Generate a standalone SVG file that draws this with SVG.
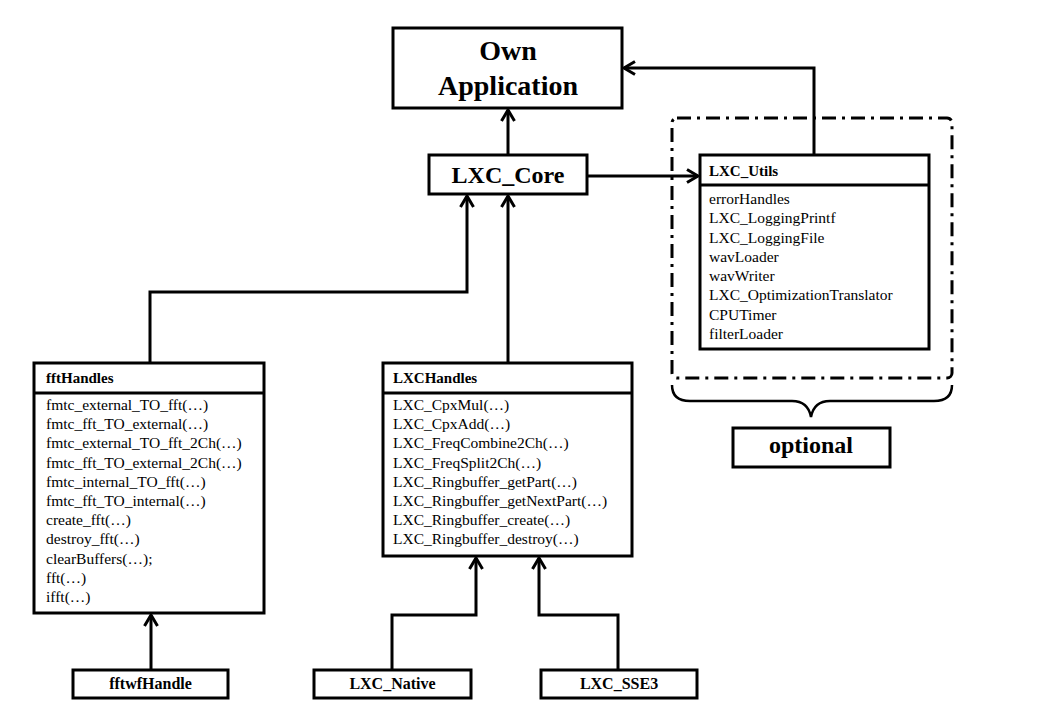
<svg xmlns="http://www.w3.org/2000/svg" width="1040" height="720" viewBox="0 0 1040 720">
<style>
.box{fill:#fff;stroke:#000;stroke-width:3}
.sep{stroke:#000;stroke-width:3}
.con{fill:none;stroke:#000;stroke-width:3;marker-end:url(#arr)}
.big{font-family:"Liberation Serif","Times New Roman",serif;font-weight:bold;font-size:28px;text-anchor:middle}
.mid{font-family:"Liberation Serif","Times New Roman",serif;font-weight:bold;font-size:24px;text-anchor:middle}
.lbl{font-family:"Liberation Serif","Times New Roman",serif;font-weight:bold;font-size:16px;text-anchor:middle}
.hdr{font-family:"Liberation Serif","Times New Roman",serif;font-weight:bold;font-size:15px}
.itm{font-family:"Liberation Serif","Times New Roman",serif;font-size:15.5px}
</style>
<defs>
<marker id="arr" markerUnits="userSpaceOnUse" markerWidth="16" markerHeight="16" viewBox="0 0 16 16" refX="13" refY="8" orient="auto">
<path d="M2,1.5 L13,8 L2,14.5" fill="none" stroke="#000" stroke-width="3"/>
</marker>
</defs>
<rect width="1040" height="720" fill="#fff"/>

<g id="optional-frame">
<rect x="672" y="118" width="280" height="260" rx="5" fill="none" stroke="#000" stroke-width="3" stroke-dasharray="14 6 3 6"/>
<path d="M672,385 Q672,401 690,401 L792,401 Q808,401 811,417 Q814,401 830,401 L934,401 Q952,401 952,385" fill="none" stroke="#000" stroke-width="2.5"/>
</g>

<g id="connectors">
<path class="con" d="M508,155 L508,110"/>
<path class="con" d="M587,176 L698,176"/>
<path class="con" d="M814,155 L814,68 L624,68"/>
<path class="con" d="M150,363 L150,292 L467,292 L467,196"/>
<path class="con" d="M508,363 L508,196"/>
<path class="con" d="M151,670 L151,615"/>
<path class="con" d="M392,670 L392,615 L476,615 L476,558"/>
<path class="con" d="M618,670 L618,615 L539,615 L539,558"/>
</g>

<g id="own-application">
<rect class="box" x="393" y="28" width="229" height="80"/>
<text class="big" x="508" y="60">Own</text>
<text class="big" x="508" y="95">Application</text>
</g>

<g id="lxc-core">
<rect class="box" x="429" y="155" width="158" height="39"/>
<text class="mid" x="508" y="183">LXC_Core</text>
</g>

<g id="lxc-utils">
<rect class="box" x="700" y="155" width="229" height="194"/>
<line class="sep" x1="700" y1="185" x2="929" y2="185"/>
<text class="hdr" x="709" y="176">LXC_Utils</text>
<text class="itm" x="709" y="204">errorHandles</text>
<text class="itm" x="709" y="223.3">LXC_LoggingPrintf</text>
<text class="itm" x="709" y="242.5">LXC_LoggingFile</text>
<text class="itm" x="709" y="261.8">wavLoader</text>
<text class="itm" x="709" y="281">wavWriter</text>
<text class="itm" x="709" y="300.3">LXC_OptimizationTranslator</text>
<text class="itm" x="709" y="319.5">CPUTimer</text>
<text class="itm" x="709" y="338.8">filterLoader</text>
</g>

<g id="optional">
<rect class="box" x="733" y="428" width="157" height="39"/>
<text class="mid" x="811" y="453">optional</text>
</g>

<g id="fft-handles">
<rect class="box" x="34" y="363" width="230" height="250"/>
<line class="sep" x1="34" y1="393" x2="264" y2="393"/>
<text class="hdr" x="46" y="383">fftHandles</text>
<text class="itm" x="46" y="410">fmtc_external_TO_fft(…)</text>
<text class="itm" x="46" y="429.2">fmtc_fft_TO_external(…)</text>
<text class="itm" x="46" y="448.4">fmtc_external_TO_fft_2Ch(…)</text>
<text class="itm" x="46" y="467.6">fmtc_fft_TO_external_2Ch(…)</text>
<text class="itm" x="46" y="486.8">fmtc_internal_TO_fft(…)</text>
<text class="itm" x="46" y="506">fmtc_fft_TO_internal(…)</text>
<text class="itm" x="46" y="525.2">create_fft(…)</text>
<text class="itm" x="46" y="544.4">destroy_fft(…)</text>
<text class="itm" x="46" y="563.6">clearBuffers(…);</text>
<text class="itm" x="46" y="582.8">fft(…)</text>
<text class="itm" x="46" y="602">ifft(…)</text>
</g>

<g id="lxc-handles">
<rect class="box" x="383" y="363" width="249" height="193"/>
<line class="sep" x1="383" y1="393" x2="632" y2="393"/>
<text class="hdr" x="393" y="383">LXCHandles</text>
<text class="itm" x="393" y="410">LXC_CpxMul(…)</text>
<text class="itm" x="393" y="429.2">LXC_CpxAdd(…)</text>
<text class="itm" x="393" y="448.4">LXC_FreqCombine2Ch(…)</text>
<text class="itm" x="393" y="467.6">LXC_FreqSplit2Ch(…)</text>
<text class="itm" x="393" y="486.8">LXC_Ringbuffer_getPart(…)</text>
<text class="itm" x="393" y="506">LXC_Ringbuffer_getNextPart(…)</text>
<text class="itm" x="393" y="525.2">LXC_Ringbuffer_create(…)</text>
<text class="itm" x="393" y="544.4">LXC_Ringbuffer_destroy(…)</text>
</g>

<g id="fftwf-handle">
<rect class="box" x="73" y="670" width="155" height="28"/>
<text class="lbl" x="150.5" y="689">fftwfHandle</text>
</g>

<g id="lxc-native">
<rect class="box" x="314" y="670" width="157" height="28"/>
<text class="lbl" x="392.5" y="689">LXC_Native</text>
</g>

<g id="lxc-sse3">
<rect class="box" x="541" y="670" width="156" height="28"/>
<text class="lbl" x="619" y="689">LXC_SSE3</text>
</g>
</svg>
